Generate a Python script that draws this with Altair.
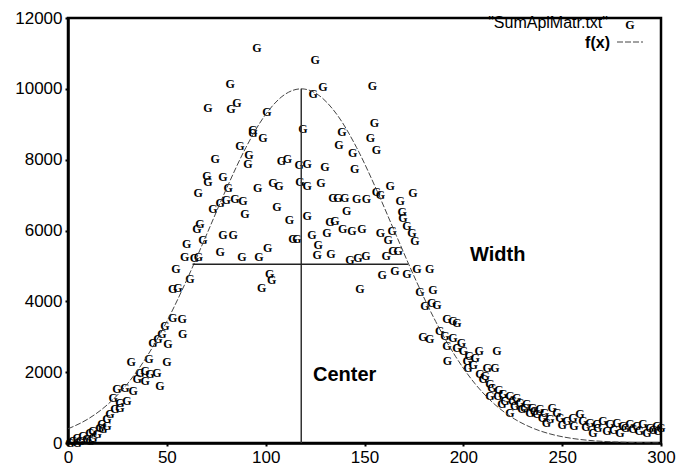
import altair as alt
import pandas as pd

# Scatter data ("SumAplMatr.txt")
px = [95.6, 125, 82, 154, 129, 124, 85.5, 82.4, 70.8, 100.6, 155, 93.6, 93.6, 98.6, 118.9,
      138.6, 153, 137, 156, 87, 91.5, 91, 144, 74.4, 108, 111, 117, 121, 130, 145,
      70.3, 70.8, 78.4, 81, 96, 103.7, 106.7, 117.3, 121, 128, 163, 156, 158, 174.5, 65.8,
      134, 136.6, 140, 146, 151, 168, 77, 80, 84.5, 88.5, 73.3, 89.5, 105.7, 141, 169,
      169.5, 112, 121, 132.5, 135, 139, 143.6, 148.7, 131, 158, 164, 171.5, 174, 175.5, 65.2,
      66.8, 78.4, 83.5, 68.3, 60, 113.8, 115.8, 123.4, 126.5, 126, 133, 162, 77, 101, 59,
      64, 66, 88, 96.6, 142.6, 146.7, 150.7, 161, 164.4, 167, 54.6, 102, 103, 98, 61.7,
      53, 55.6, 147.7, 159, 165.4, 171.5, 176.5, 183, 178, 184.6, 180.6, 184, 186.6, 191.7, 194.7,
      196.8, 188, 179.6, 183, 190.7, 194.7, 199, 191.7, 196.8, 200, 203, 206, 208, 217, 192,
      202, 202.3, 212, 216, 208.4, 211, 213.5, 214.5, 213.5, 217.5, 220, 223.6, 227, 225, 228.6,
      232, 235, 238.7, 219.5, 223.6, 229.6, 233.7, 237.2, 245, 247.3, 240, 243.8, 248.9, 252.4, 255.4,
      259, 260.5, 264, 267.6, 270.6, 274.2, 277.7, 280.7, 284.3, 287.8, 290.8, 294.4, 297.9, 298.4, 265.5,
      272.6, 279.2, 285.8, 292.9, 242, 250, 256, 262, 268, 276, 282, 289, 296, 300,
      205, 210, 218, 221, 226, 231, 236, 241,
      53, 57.7, 58, 49, 47.5, 43, 50.6, 45.5, 31.9, 41, 50, 36.4, 39, 41.5, 45,
      35, 39, 46.5, 24.8, 28.8, 33, 22.8, 26.3, 29.8, 23.8, 26.3, 21.2, 19.7, 17.2, 16.2,
      12.6, 11.1, 7.6, 4.6, 2.5, 1.0, 9.6, 12.6, 6.1, 14.7, 17.7, 19.7, 11.1, 4.6]
py = [11150, 10810, 10130, 10080, 10050, 9850, 9600, 9430, 9450, 9340, 9030, 8750, 8830, 8600, 8860,
      8770, 8600, 8410, 8260, 8380, 8120, 7870, 8180, 8010, 7950, 8010, 7840, 7870, 7780, 7750,
      7530, 7360, 7500, 7190, 7190, 7330, 7270, 7360, 7270, 7330, 7270, 7080, 6990, 7050, 7050,
      6930, 6930, 6930, 6900, 6900, 6820, 6790, 6850, 6880, 6820, 6600, 6480, 6650, 6540, 6510,
      6340, 6310, 6400, 6230, 6280, 6030, 6000, 6030, 5940, 5920, 6000, 6140, 5940, 5690, 6030,
      6170, 5860, 5860, 5720, 5630, 5750, 5770, 5860, 5580, 5320, 5350, 5720, 5380, 5520, 5240,
      5210, 5240, 5240, 5240, 5180, 5210, 5290, 5290, 5430, 5430, 4920, 4780, 4590, 4390, 4620,
      4360, 4390, 4340, 4730, 4870, 4780, 4920, 4920, 4250, 4330, 3880, 3960, 3900, 3510, 3450,
      3400, 3170, 3000, 2950, 3030, 2970, 2830, 2750, 2690, 2600, 2460, 2400, 2600, 2600, 2320,
      2320, 2120, 2120, 2120, 1950, 1900, 1670, 1560, 1330, 1330, 1390, 1330, 1270, 1190, 1130,
      1100, 990, 960, 1100, 850, 960, 850, 820, 990, 850, 710, 680, 710, 620, 710,
      820, 620, 570, 540, 620, 540, 570, 480, 540, 480, 540, 420, 480, 340, 280,
      340, 280, 400, 280, 560, 520, 480, 450, 420, 380, 430, 350, 380, 420,
      2200, 1800, 1500, 1200, 1050, 1000, 900, 850,
      3540, 3510, 3080, 3310, 3080, 2830, 2800, 2940, 2290, 2380, 2290, 1980, 2040, 1950, 1980,
      1810, 1750, 1610, 1530, 1560, 1470, 1270, 1130, 1190, 960, 990, 820, 680, 540, 420,
      340, 280, 200, 140, 60, 0, 110, 140, 60, 250, 400, 480, 60, 0]

# Fitted curve f(x)
fx = [0, 10, 20, 30, 40, 50, 60, 70, 80, 90, 100, 110, 118, 126, 136, 146, 156, 166, 176,
      186, 196, 206, 216, 226, 236, 246, 256, 266, 276, 286, 300]
fy = [400, 674, 1085, 1668, 2450, 3433, 4594, 5869, 7161, 8342, 9278, 9853, 10000, 9853, 9278,
      8342, 7161, 5869, 4594, 3433, 2450, 1668, 1085, 674, 400, 226, 122, 63, 31, 15, 5]

# Center and width markers
center_x = [118, 118]
center_y = [0, 10000]
width_x = [63, 172]
width_y = [5050, 5050]

x_ticks = [0, 50, 100, 150, 200, 250, 300]
y_ticks = [0, 2000, 4000, 6000, 8000, 10000, 12000]

W, H = 593, 425
FONT = "Liberation Sans"

xs = alt.Scale(domain=[0, 300], nice=False)
ys = alt.Scale(domain=[0, 12000], nice=False)

pts = pd.DataFrame({"x": px, "y": py, "g": ["G"] * len(px)})
curve = pd.DataFrame({"x": fx, "y": fy})
cen = pd.DataFrame({"x": center_x, "y": center_y})
wid = pd.DataFrame({"x": width_x, "y": width_y})

xaxis = alt.Axis(values=x_ticks, title=None, grid=False, labelFontSize=17, labelFont=FONT,
                 labelColor="black", domainColor="black", domainWidth=2.5, tickColor="black",
                 tickSize=3, tickWidth=2, labelPadding=3, labelFlush=False, format="d",
                 labelOverlap=False)
yaxis = alt.Axis(values=y_ticks, title=None, grid=False, labelFontSize=17, labelFont=FONT,
                 labelColor="black", domainColor="black", domainWidth=2.5, tickColor="black",
                 tickSize=3, tickWidth=2, labelPadding=3, labelFlush=False, format="d",
                 labelOverlap=False)

points = alt.Chart(pts).mark_text(font="Liberation Serif", fontWeight="bold", fontSize=12,
                                  color="black").encode(
    x=alt.X("x:Q", scale=xs, axis=xaxis),
    y=alt.Y("y:Q", scale=ys, axis=yaxis),
    text="g:N",
)

line = alt.Chart(curve).mark_line(color="#444444", strokeWidth=1, interpolate="monotone",
                                  strokeDash=[6, 2]).encode(
    x=alt.X("x:Q", scale=xs), y=alt.Y("y:Q", scale=ys))

center = alt.Chart(cen).mark_line(color="#333333", strokeWidth=1.5).encode(
    x=alt.X("x:Q", scale=xs), y=alt.Y("y:Q", scale=ys))
width = alt.Chart(wid).mark_line(color="#222222", strokeWidth=1.5).encode(
    x=alt.X("x:Q", scale=xs), y=alt.Y("y:Q", scale=ys))

lab_center = alt.Chart(pd.DataFrame({"t": ["Center"]})).mark_text(
    font=FONT, fontWeight="bold", fontSize=20, align="left", baseline="middle", color="black"
).encode(x=alt.value(245), y=alt.value(357), text="t:N")
lab_width = alt.Chart(pd.DataFrame({"t": ["Width"]})).mark_text(
    font=FONT, fontWeight="bold", fontSize=20, align="left", baseline="middle", color="black"
).encode(x=alt.value(402), y=alt.value(237), text="t:N")

leg1 = alt.Chart(pd.DataFrame({"t": ['"SumAplMatr.txt"']})).mark_text(
    font=FONT, fontSize=16, align="right", baseline="middle", color="black"
).encode(x=alt.value(540), y=alt.value(5), text="t:N")
leg1k = alt.Chart(pd.DataFrame({"t": ["G"]})).mark_text(
    font="Liberation Serif", fontWeight="bold", fontSize=12, align="center", baseline="middle",
    color="black"
).encode(x=alt.value(562), y=alt.value(7), text="t:N")
leg2 = alt.Chart(pd.DataFrame({"t": ["f(x)"]})).mark_text(
    font=FONT, fontWeight="bold", fontSize=16, align="right", baseline="middle", color="black"
).encode(x=alt.value(542), y=alt.value(25), text="t:N")
leg2k = alt.Chart(pd.DataFrame({"t": ["f(x)"]})).mark_rule(
    color="#444444", strokeWidth=1, strokeDash=[6, 2]
).encode(x=alt.value(549), x2=alt.value(575), y=alt.value(24))

chart = alt.layer(points, line, center, width, lab_center, lab_width,
                  leg1, leg1k, leg2, leg2k).properties(
    width=W, height=H,
    autosize=alt.AutoSizeParams(type="none"),
    padding={"left": 68, "top": 18, "right": 18, "bottom": 23},
    background="white",
).configure_view(stroke="black", strokeWidth=2.5)

chart.save("out.html", embed_options={"renderer": "svg", "actions": False})
